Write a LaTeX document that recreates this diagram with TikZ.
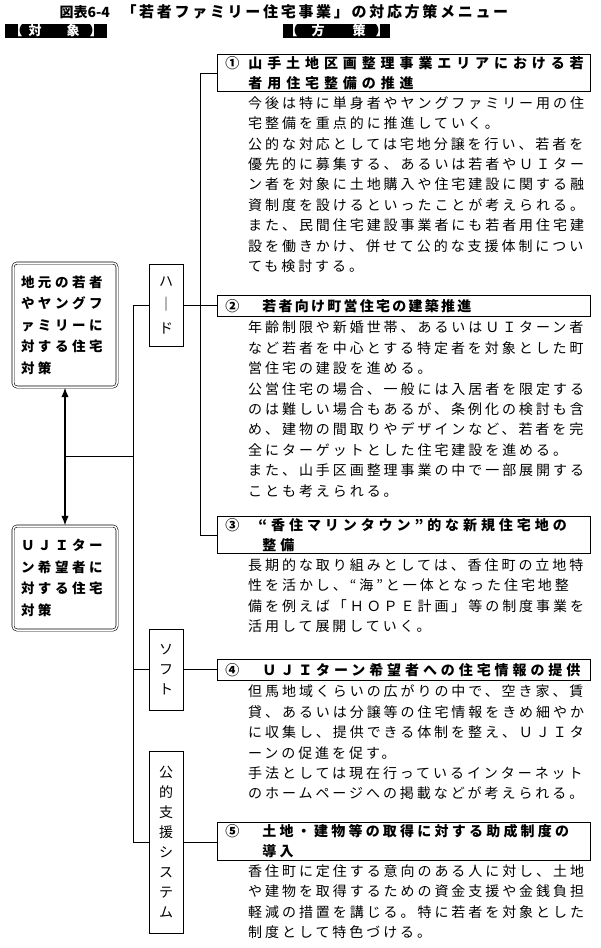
\documentclass[tikz,border=0pt]{standalone}
\usepackage{fontspec}
\usepackage{tikz}
\setmainfont{Noto Sans CJK JP}
\newfontfamily\jpbody[LetterSpace=21]{Noto Sans CJK JP}
\newfontfamily\jphead[LetterSpace=28]{Noto Sans CJK JP}
\newfontfamily\jpside[LetterSpace=26]{Noto Sans CJK JP}
\newfontfamily\jptitle[LetterSpace=18]{Noto Sans CJK JP}
\usetikzlibrary{
  calc,
  positioning,
  arrows.meta
}

\begin{document}
\begin{tikzpicture}[x=1pt,y=-1pt,>=Latex]
  \tikzset{
    tagbar/.style={fill=black, text=white, minimum width=102pt, minimum height=14pt,
      inner sep=0pt, font=\bfseries\fontsize{13}{14}\selectfont},
    target/.style={draw, double, double distance=1.5pt, rounded corners=4pt,
      line width=0.6pt, text width=88pt, inner xsep=8pt, align=left,
      font=\jpside\bfseries\fontsize{13.5}{21.5}\selectfont},
    kind/.style={draw, line width=0.8pt, minimum width=34pt, inner sep=0pt,
      align=center, font=\fontsize{14}{20}\selectfont},
    headbox/.style={draw, line width=0.9pt, anchor=north west, text width=357pt,
      inner xsep=8pt, inner ysep=2pt, minimum height=21pt, align=left,
      font=\jphead\bfseries\fontsize{14}{20}\selectfont},
    body/.style={anchor=north west, inner sep=0pt, align=left,
      font=\jpbody\fontsize{14}{20.4}\selectfont},
    link/.style={line width=0.6pt}
  }
\useasboundingbox (0,0) rectangle (600,948);

% title and column tags
\node[anchor=west, font=\bfseries\fontsize{14}{16}\selectfont] (fig) at (56,12) {図表6-4};
\node[anchor=west, font=\jptitle\bfseries\fontsize{15}{16}\selectfont] (ttl) at (118,12)
  {「若者ファミリー住宅事業」の対応方策メニュー};
\node[tagbar, anchor=west] (tgt) at (5,31) {【\hspace{6pt}対\hspace{25pt}象\hspace{10pt}】};
\node[tagbar, anchor=west, minimum width=107pt] (pol) at (283,31) {【\hspace{14pt}方\hspace{28pt}策\hspace{10pt}】};

% targets
\node[target, minimum height=124pt] (loc) at (65,325)
  {地元の若者\\やヤングフ\\ァミリーに\\対する住宅\\対策};
\node[target, minimum height=104pt] (uji) at (65,578)
  {ＵＪＩター\\ン希望者に\\対する住宅\\対策};
\draw[<->, line width=1.5pt] (loc.south) -- (uji.north);
\coordinate (mid) at ($(loc.south)!0.5!(uji.north)$);

% kinds of measures
\node[kind, minimum height=82pt, font=\fontsize{14}{23.5}\selectfont] (hard) at (166,305) {ハ\\｜\\ド};
\node[kind, minimum height=81pt] (soft) at (166,669.5) {ソ\\フ\\ト};
\node[kind, minimum height=182pt] (pub) at (166,842) {公\\的\\支\\援\\シ\\ス\\テ\\ム};

% measures
\node[headbox] (h1) at (217,54)
  {\makebox[23pt][l]{①}\addfontfeature{LetterSpace=35}山手土地区画整理事業エリアにおける若\\
   \hspace*{23pt}\addfontfeature{LetterSpace=35}者用住宅整備の推進};
\node[body] (t1) at ([xshift=31pt,yshift=-4pt]h1.south west)
  {今後は特に単身者やヤングファミリー用の住\\
   宅整備を重点的に推進していく。\\
   公的な対応としては宅地分譲を行い、若者を\\
   優先的に募集する、あるいは若者やＵＩター\\
   ン者を対象に土地購入や住宅建設に関する融\\
   資制度を設けるといったことが考えられる。\\
   また、民間住宅建設事業者にも若者用住宅建\\
   設を働きかけ、併せて公的な支援体制につい\\
   ても検討する。};

\node[headbox] (h2) at (217,295)
  {\makebox[37pt][l]{②}\addfontfeature{LetterSpace=16}若者向け町営住宅の建築推進};
\node[body] (t2) at ([xshift=31pt,yshift=-4pt]h2.south west)
  {年齢制限や新婚世帯、あるいはＵＩターン者\\
   など若者を中心とする特定者を対象とした町\\
   営住宅の建設を進める。\\
   公営住宅の場合、一般には入居者を限定する\\
   のは難しい場合もあるが、条例化の検討も含\\
   め、建物の間取りやデザインなど、若者を完\\
   全にターゲットとした住宅建設を進める。\\
   また、山手区画整理事業の中で一部展開する\\
   ことも考えられる。};

\node[headbox] (h3) at (217,516)
  {\makebox[33pt][l]{③}“香住マリンタウン”的な新規住宅地の\\
   \hspace*{37pt}整備};
\node[body] (t3) at ([xshift=31pt,yshift=-4pt]h3.south west)
  {長期的な取り組みとしては、香住町の立地特\\
   性を活かし、“海”と一体となった住宅地整\\
   備を例えば「ＨＯＰＥ計画」等の制度事業を\\
   活用して展開していく。};

\node[headbox] (h4) at (217,659)
  {\makebox[37pt][l]{④}ＵＪＩターン希望者への住宅情報の提供};
\node[body] (t4) at ([xshift=31pt,yshift=-4pt]h4.south west)
  {但馬地域くらいの広がりの中で、空き家、賃\\
   貸、あるいは分譲等の住宅情報をきめ細やか\\
   に収集し、提供できる体制を整え、ＵＪＩタ\\
   ーンの促進を促す。\\
   手法としては現在行っているインターネット\\
   のホームページへの掲載などが考えられる。};

\node[headbox] (h5) at (217,822)
  {\makebox[37pt][l]{⑤}\addfontfeature{LetterSpace=23}土地・建物等の取得に対する助成制度の\\
   \hspace*{37pt}導入};
\node[body] (t5) at ([xshift=31pt,yshift=-4pt]h5.south west)
  {香住町に定住する意向のある人に対し、土地\\
   や建物を取得するための資金支援や金銭負担\\
   軽減の措置を講じる。特に若者を対象とした\\
   制度として特色づける。};

% connectors
\coordinate (ltrunk) at (133,0);
\coordinate (rtrunk) at (200,0);
\draw[link] (hard.west) -- (hard.west -| ltrunk) -- (pub.west -| ltrunk) -- (pub.west);
\draw[link] (mid) -- (mid -| ltrunk);
\draw[link] (soft.west) -- (soft.west -| ltrunk);
\draw[link] (h1.west) -- (h1.west -| rtrunk) -- (h3.west -| rtrunk) -- (h3.west);
\draw[link] (hard.east) -- (hard.east -| h2.west);
\draw[link] (soft.east) -- (soft.east -| h4.west);
\draw[link] (pub.east) -- (pub.east -| h5.west);

\end{tikzpicture}
\end{document}
